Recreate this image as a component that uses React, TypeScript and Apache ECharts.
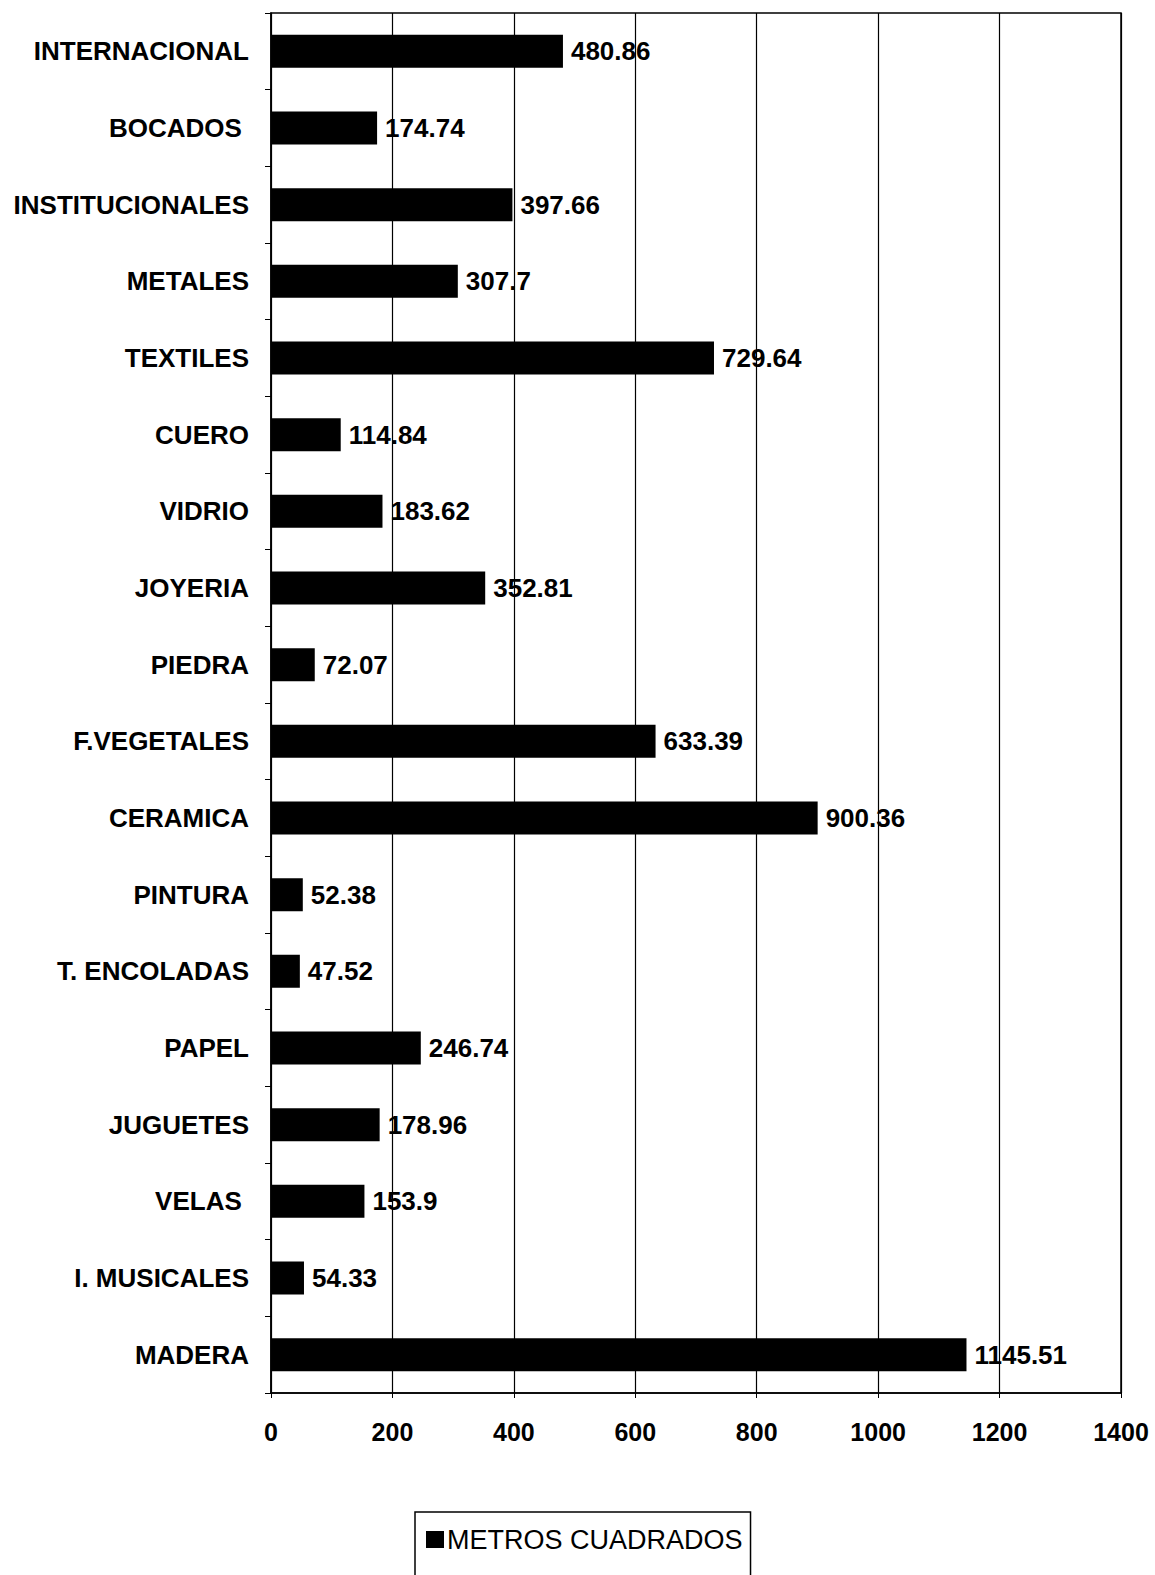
import React, { useEffect, useRef } from "react";
import * as echarts from "echarts";

const categories = [
  "INTERNACIONAL",
  "BOCADOS ",
  "INSTITUCIONALES",
  "METALES",
  "TEXTILES",
  "CUERO",
  "VIDRIO",
  "JOYERIA",
  "PIEDRA",
  "F.VEGETALES",
  "CERAMICA",
  "PINTURA",
  "T. ENCOLADAS",
  "PAPEL",
  "JUGUETES",
  "VELAS ",
  "I. MUSICALES",
  "MADERA",
];

const metrosCuadrados = [
  480.86, 174.74, 397.66, 307.7, 729.64, 114.84, 183.62, 352.81, 72.07,
  633.39, 900.36, 52.38, 47.52, 246.74, 178.96, 153.9, 54.33, 1145.51,
];

const seriesName = "METROS CUADRADOS";
const xMin = 0;
const xMax = 1400;
const xStep = 200;

const FONT = "'Liberation Sans', Arial, sans-serif";

export default function App() {
  const ref = useRef<HTMLDivElement>(null);
  useEffect(() => {
    if (!ref.current) return;
    const chart = echarts.init(ref.current, null, { renderer: "svg" });
    chart.setOption({
      animation: false,
      backgroundColor: "#ffffff",
      textStyle: { fontFamily: FONT, color: "#000" },
      grid: {
        left: 271,
        right: 34,
        top: 13,
        bottom: 182,
        show: true,
        borderColor: "#000",
        borderWidth: 1.5,
        containLabel: false,
      },
      legend: {
        data: [seriesName],
        left: 415,
        top: 1512,
        orient: "horizontal",
        icon: "rect",
        itemWidth: 18,
        itemHeight: 17,
        itemGap: 4,
        borderColor: "#000",
        borderWidth: 1.5,
        padding: [14, 8, 60, 11],
        textStyle: {
          fontFamily: FONT,
          fontSize: 27,
          color: "#000",
          padding: [0, 0, 0, -2],
        },
      },
      xAxis: {
        type: "value",
        min: xMin,
        max: xMax,
        interval: xStep,
        axisLine: { show: true, lineStyle: { color: "#000", width: 1.5 } },
        axisTick: { show: true, length: 5, lineStyle: { color: "#000" } },
        splitLine: { show: true, lineStyle: { color: "#000", width: 1.2 } },
        axisLabel: {
          margin: 26,
          fontFamily: FONT,
          fontSize: 25,
          fontWeight: "bold",
          color: "#000",
          formatter: (v: number) => String(v),
        },
      },
      yAxis: {
        type: "category",
        data: categories,
        inverse: true,
        axisLine: { show: true, lineStyle: { color: "#000", width: 1.5 } },
        axisTick: { show: true, length: 6, lineStyle: { color: "#000" } },
        axisLabel: {
          margin: 22,
          fontFamily: FONT,
          fontSize: 26,
          fontWeight: "bold",
          color: "#000",
        },
      },
      series: [
        {
          name: seriesName,
          type: "bar",
          data: metrosCuadrados,
          barCategoryGap: "57%",
          itemStyle: { color: "#000" },
          label: {
            show: true,
            position: "right",
            distance: 8,
            fontFamily: FONT,
            fontSize: 26,
            fontWeight: "bold",
            color: "#000",
          },
        },
      ],
    });
    return () => chart.dispose();
  }, []);
  return <div ref={ref} style={{ width: 1155, height: 1575, position: "absolute", left: 0, top: 0 }} />;
}
